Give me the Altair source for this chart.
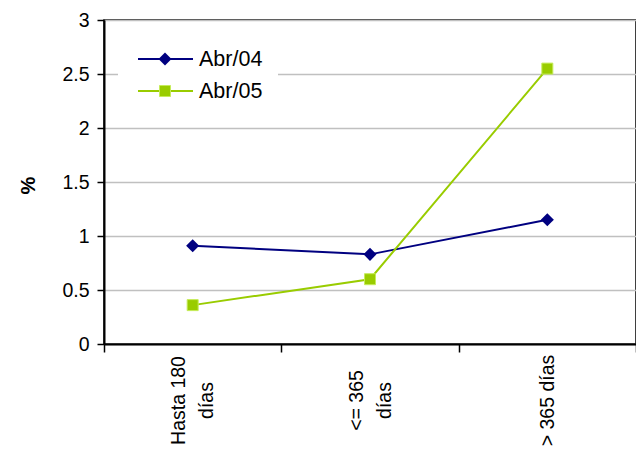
import altair as alt
import pandas as pd

categories = ["Hasta 180 días", "<= 365 días", "> 365 días"]
# axis label lines; "\u200b" lines act as half-line spacers so blocks centre on the tick
label_lines = {
    "Hasta 180 días": ["Hasta 180", "\u200b", "días"],
    "<= 365 días": ["<= 365", "\u200b", "días"],
    "> 365 días": ["\u200b", "> 365 días"],
}
series = ["Abr/04", "Abr/05"]
abr04 = [0.91, 0.83, 1.15]
abr05 = [0.36, 0.60, 2.55]
colors = ["#000080", "#99cc00"]
shapes = ["diamond", "square"]
y_ticks = [0, 0.5, 1, 1.5, 2, 2.5, 3]

rows = []
for s, vals in zip(series, [abr04, abr05]):
    for c, v in zip(categories, vals):
        rows.append({"cat": c, "serie": s, "val": v})
df = pd.DataFrame(rows)

FONT = "Liberation Sans"

parts = []
for k, lines in label_lines.items():
    arr = "[" + ", ".join("'" + ln + "'" for ln in lines) + "]"
    parts.append(f"datum.value == '{k}' ? {arr} : ")
label_expr = "".join(parts) + "datum.label"

x_axis = alt.Axis(
    title=None,
    labelExpr=label_expr,
    labelAngle=270,
    labelAlign="center",
    labelBaseline="middle",
    labelFont=FONT,
    labelFontSize=19.5,
    labelColor="black",
    labelLineHeight=14,
    labelOffset=-14,
    labelPadding=48,
    tickBand="extent",
    tickSize=8,
    tickColor="black",
    tickWidth=1.5,
    domainColor="black",
    domainWidth=2,
    grid=False,
)

y_axis = alt.Axis(
    title="%",
    values=y_ticks,
    format="~g",
    labelFont=FONT,
    labelFontSize=19.5,
    labelColor="black",
    labelPadding=8,
    tickSize=7,
    tickColor="black",
    tickWidth=1.5,
    domainColor="black",
    domainWidth=2,
    grid=True,
    gridColor="#c0c0c0",
    gridWidth=1.5,
    titleFont=FONT,
    titleFontSize=20,
    titleFontWeight="bold",
    titleColor="black",
    titleAngle=270,
    titleAlign="center",
    titleBaseline="middle",
    titleX=-76,
    titleY=165,
)

x_scale = alt.Scale(type="band", domain=categories, paddingInner=0, paddingOuter=0)
y_scale = alt.Scale(domain=[0, 3], nice=False)

base = alt.Chart(df)

layers = []
for i, (s, col, shp) in enumerate(zip(series, colors, shapes)):
    sub = base.transform_filter(alt.datum.serie == s)
    enc = dict(
        x=alt.X("cat:N", sort=categories, bandPosition=0.5, scale=x_scale, axis=x_axis),
        y=alt.Y("val:Q", scale=y_scale, axis=y_axis),
    )
    line = sub.mark_line(color=col, strokeWidth=2).encode(**enc)
    if shp == "diamond":
        pt = sub.mark_point(shape="diamond", filled=True, color=col, size=170, opacity=1).encode(**enc)
    else:
        pt = sub.mark_point(shape="square", filled=True, fill=col, stroke="#c6ec5a", strokeWidth=1, size=121, opacity=1).encode(**enc)
    layers += [line, pt]

# legend (white box + entries)
leg_df = pd.DataFrame({"serie": series})
box = alt.Chart(leg_df).transform_filter(alt.datum.serie == series[0]).mark_rect(color="white").encode(
    x=alt.value(14), x2=alt.value(174), y=alt.value(22), y2=alt.value(88)
)
legend_layers = [box]
leg_y = [39, 71]
for s, col, shp, yy in zip(series, colors, shapes, leg_y):
    d = alt.Chart(leg_df).transform_filter(alt.datum.serie == s)
    legend_layers.append(d.mark_rule(color=col, strokeWidth=2).encode(x=alt.value(34), x2=alt.value(89), y=alt.value(yy)))
    if shp == "diamond":
        legend_layers.append(d.mark_point(shape="diamond", filled=True, color=col, size=170, opacity=1).encode(x=alt.value(61), y=alt.value(yy)))
    else:
        legend_layers.append(d.mark_point(shape="square", filled=True, fill=col, stroke="#c6ec5a", strokeWidth=1, size=121, opacity=1).encode(x=alt.value(61), y=alt.value(yy)))
    legend_layers.append(d.mark_text(align="left", baseline="middle", font=FONT, fontSize=21.5, color="black").encode(
        x=alt.value(95), y=alt.value(yy + 1), text="serie:N"))

chart = alt.layer(*layers, *legend_layers).properties(
    width=532,
    height=324,
    autosize=alt.AutoSizeParams(type="none"),
    padding={"left": 96, "top": 12, "right": 0, "bottom": 106},
    background="white",
).configure_view(stroke="black", strokeWidth=1.5)

chart.save("out.html", embed_options={"renderer": "svg", "actions": False})
